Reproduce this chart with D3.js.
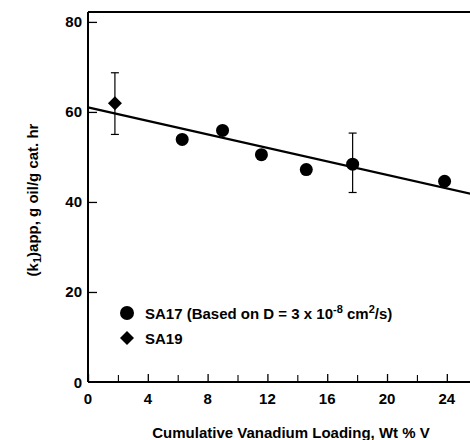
<!DOCTYPE html>
<html><head><meta charset="utf-8">
<script src="https://cdn.jsdelivr.net/npm/d3@7"></script>
<style>body{margin:0;background:#fff}svg{display:block}text{font-family:"Liberation Sans",Arial,sans-serif;font-weight:bold;fill:#000}</style>
</head><body>
<script>
const sa17X = [6.3, 9.0, 11.6, 14.6, 17.7, 23.85];
const sa17Y = [53.9, 55.9, 50.5, 47.2, 48.4, 44.6];
const sa19X = [1.8];
const sa19Y = [61.9];
const errX = [1.8, 17.7];
const errLo = [55.0, 42.1];
const errHi = [68.7, 55.3];
const fitX = [0, 25.6];
const fitY = [61.0, 41.8];
const xTicks = [0, 4, 8, 12, 16, 20, 24];
const xMinor = [2, 6, 10, 14, 18, 22];
const yTicks = [0, 20, 40, 60, 80];

const W = 470, H = 440;
const svg = d3.select("body").append("svg").attr("width", W).attr("height", H);
const x = d3.scaleLinear().domain([0, 25.55]).range([88, 470]);
const y = d3.scaleLinear().domain([0, 82.2]).range([382, 12]);

// frame: left axis, bottom axis, top line
const g = svg.append("g");
g.append("line").attr("x1", x(0)).attr("x2", x(0)).attr("y1", y(82.2)).attr("y2", y(0)).attr("stroke", "#000").attr("stroke-width", 2);
g.append("line").attr("x1", x(0)).attr("x2", x(25.55)).attr("y1", y(0)).attr("y2", y(0)).attr("stroke", "#000").attr("stroke-width", 2);
g.append("line").attr("x1", x(0)).attr("x2", x(25.55)).attr("y1", y(82.2)).attr("y2", y(82.2)).attr("stroke", "#000").attr("stroke-width", 2);

// x axis ticks (inward)
const xAxis = d3.axisTop(x).tickValues(xTicks).tickSize(8).tickFormat("");
svg.append("g").attr("transform", `translate(0,${y(0)})`).call(xAxis)
  .call(s => s.select(".domain").remove())
  .call(s => s.selectAll("line").attr("stroke-width", 1.3));
const xAxisMinor = d3.axisTop(x).tickValues(xMinor).tickSize(7).tickFormat("");
svg.append("g").attr("transform", `translate(0,${y(0)})`).call(xAxisMinor)
  .call(s => s.select(".domain").remove())
  .call(s => s.selectAll("line").attr("stroke-width", 1.1));
svg.append("g").selectAll("text").data(xTicks).join("text")
  .attr("x", d => x(d)).attr("y", 404).attr("text-anchor", "middle")
  .attr("font-size", 15).text(d => d);

// y axis ticks (inward)
const yAxis = d3.axisRight(y).tickValues(yTicks.filter(d => d > 0)).tickSize(9).tickFormat("");
svg.append("g").attr("transform", `translate(${x(0)},0)`).call(yAxis)
  .call(s => s.select(".domain").remove())
  .call(s => s.selectAll("line").attr("stroke-width", 1.3));
svg.append("g").selectAll("text").data(yTicks).join("text")
  .attr("x", 82).attr("y", d => y(d) + 5.5).attr("text-anchor", "end")
  .attr("font-size", 15).text(d => d);

// fit line
svg.append("line").attr("x1", x(fitX[0])).attr("y1", y(fitY[0]))
  .attr("x2", x(fitX[1])).attr("y2", y(fitY[1]))
  .attr("stroke", "#000").attr("stroke-width", 2.2);

// error bars
errX.forEach((ex, i) => {
  const eg = svg.append("g").attr("stroke", "#000").attr("stroke-width", 1.2);
  eg.append("line").attr("x1", x(ex)).attr("x2", x(ex)).attr("y1", y(errLo[i])).attr("y2", y(errHi[i]));
  [errLo[i], errHi[i]].forEach(v => eg.append("line").attr("x1", x(ex) - 4).attr("x2", x(ex) + 4).attr("y1", y(v)).attr("y2", y(v)));
});

// SA17 circles
svg.append("g").selectAll("circle").data(sa17X).join("circle")
  .attr("cx", d => x(d)).attr("cy", (d, i) => y(sa17Y[i])).attr("r", 6.5).attr("fill", "#000");

// SA19 diamond
const diamond = d3.symbol().type(d3.symbolSquare).size(98);
svg.append("g").selectAll("path").data(sa19X).join("path")
  .attr("d", diamond)
  .attr("transform", (d, i) => `translate(${x(d)},${y(sa19Y[i])}) rotate(45)`)
  .attr("fill", "#000");

// legend
svg.append("circle").attr("cx", 127).attr("cy", 313).attr("r", 7).attr("fill", "#000");
svg.append("path").attr("d", diamond).attr("transform", "translate(127,338) rotate(45)").attr("fill", "#000");
const l1 = svg.append("text").attr("x", 145).attr("y", 318.5).attr("font-size", 15);
l1.append("tspan").text("SA17 (Based on D = 3 x 10");
l1.append("tspan").attr("dy", -6).attr("font-size", 11).text("-8");
l1.append("tspan").attr("dy", 6).text(" cm");
l1.append("tspan").attr("dy", -6).attr("font-size", 11).text("2");
l1.append("tspan").attr("dy", 6).text("/s)");
svg.append("text").attr("x", 145).attr("y", 343.5).attr("font-size", 15).text("SA19");

// axis titles
svg.append("text").attr("x", 291).attr("y", 438).attr("text-anchor", "middle").attr("font-size", 15)
  .text("Cumulative Vanadium Loading, Wt % V");
const yl = svg.append("text").attr("transform", "translate(38,200) rotate(-90)").attr("text-anchor", "middle").attr("font-size", 15);
yl.append("tspan").text("(k");
yl.append("tspan").attr("dy", 3).attr("font-size", 11).text("1");
yl.append("tspan").attr("dy", -3).text(")app, g oil/g cat. hr");
</script>
</body></html>
